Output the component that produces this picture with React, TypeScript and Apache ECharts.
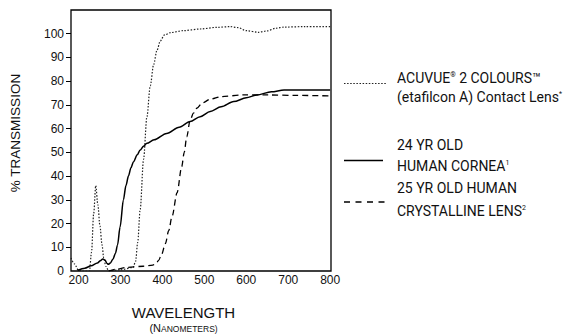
import React, { useEffect, useRef } from "react";
import * as echarts from "echarts";

// Wavelength (nm) vs % transmission
const contactLens: [number, number][] = [
  [182, 5.5], [190, 3], [200, 0.3], [210, 0], [226, 0], [231, 8], [236, 24], [241, 36],
  [246, 28], [251, 19], [256, 11], [260, 5.5], [265, 2], [272, 0], [300, 0.5], [330, 1.5],
  [336, 4], [341, 12], [347, 26], [355, 47], [363, 65], [371, 78], [379, 87], [387, 93],
  [395, 97], [405, 99.5], [420, 100.5], [450, 101.3], [490, 102], [530, 102.7], [562, 103],
  [580, 102.6], [600, 101.3], [629, 100.6], [650, 101.2], [670, 102.3], [690, 102.8],
  [740, 103], [800, 103],
];

const cornea: [number, number][] = [
  [198, 0.3], [215, 1.2], [230, 2.2], [245, 3.4], [252, 4.3], [258, 5.1], [263, 4.6],
  [268, 3.2], [271, 2.8], [276, 3.4], [282, 5], [288, 7.5], [293, 11], [299, 18.5],
  [307, 30], [313, 36], [319, 40], [325, 43.5], [331, 46], [340, 49], [347, 51],
  [355, 52.6], [363, 53.8], [380, 55.3], [410, 58], [440, 60.6], [466, 63], [490, 65],
  [514, 67.2], [540, 69.2], [570, 71.4], [600, 73], [625, 74.2], [660, 75.5], [690, 76.3],
  [800, 76.3],
];

const crystallineLens: [number, number][] = [
  [272, 0], [290, 0.8], [314, 1.5], [354, 2], [377, 2.5], [385, 3.2], [391, 4.5], [398, 7],
  [407, 11.5], [415, 17], [423, 23], [435, 33], [446, 44], [452, 50], [458, 56.5],
  [466, 63.5], [474, 66.5], [482, 68.6], [495, 70.8], [514, 72.4], [540, 73.5],
  [593, 74.2], [650, 74.2], [720, 74], [800, 73.8],
];

const xTickLabels = [200, 300, 400, 500, 600, 700, 800];
const yTickLabels = [0, 10, 20, 30, 40, 50, 60, 70, 80, 90, 100];
const yTickMarks = [10, 20, 30, 40, 50, 60, 70, 80, 90, 100];

const FONT = "'Liberation Sans', Arial, sans-serif";
const LEG_FONT = "Roboto, 'Liberation Sans', sans-serif";
const INK = "#111";

export default function App() {
  const ref = useRef<HTMLDivElement>(null);
  useEffect(() => {
    if (!ref.current) return;
    const chart = echarts.init(ref.current, undefined, { renderer: "svg" });
    const legText = (x: number, y: number, text: string) => ({
      type: "text",
      x,
      y,
      style: {
        text,
        fill: INK,
        fontFamily: LEG_FONT,
        fontSize: 14,
        verticalAlign: "middle",
        align: "left",
        rich: {
          a: { fontFamily: LEG_FONT, fontSize: 14, fill: INK },
          s: { fontFamily: LEG_FONT, fontSize: 7, fill: INK, verticalAlign: "top", padding: [0, 0, 6, 0] },
        },
      },
    });
    chart.setOption({
      animation: false,
      grid: {
        left: 71,
        right: 232,
        top: 10,
        bottom: 63,
        show: true,
        borderColor: "#000",
        borderWidth: 1.3,
        backgroundColor: "transparent",
      },
      xAxis: {
        type: "value",
        min: 182,
        max: 802,
        axisLine: { show: false },
        axisTick: { show: false },
        splitLine: { show: false },
        axisLabel: {
          customValues: xTickLabels,
          color: INK,
          fontFamily: FONT,
          fontSize: 12,
          margin: 3,
        },
      },
      yAxis: {
        type: "value",
        min: 0,
        max: 110,
        interval: 10,
        axisLine: { show: false },
        splitLine: { show: false },
        axisTick: {
          show: true,
          customValues: yTickMarks,
          length: 5,
          inside: false,
          lineStyle: { color: "#000", width: 1 },
        },
        axisLabel: {
          customValues: yTickLabels,
          color: INK,
          fontFamily: FONT,
          fontSize: 12,
          margin: 7,
        },
      },
      series: [
        {
          type: "line",
          name: "ACUVUE 2 COLOURS",
          data: contactLens,
          showSymbol: false,
          smooth: 0.3,
          smoothMonotone: "x",
          lineStyle: { color: "#222", width: 1.2, type: [1.5, 1.6] },
        },
        {
          type: "line",
          name: "24 YR OLD HUMAN CORNEA",
          data: cornea,
          showSymbol: false,
          smooth: 0.3,
          smoothMonotone: "x",
          lineStyle: { color: "#000", width: 1.5, type: "solid" },
        },
        {
          type: "line",
          name: "25 YR OLD HUMAN CRYSTALLINE LENS",
          data: crystallineLens,
          showSymbol: false,
          smooth: 0.3,
          smoothMonotone: "x",
          lineStyle: { color: "#000", width: 1.3, type: [6, 4] },
        },
      ],
      graphic: [
        {
          type: "text",
          x: 15,
          y: 133,
          rotation: Math.PI / 2,
          style: {
            text: "% TRANSMISSION",
            fill: INK,
            fontFamily: FONT,
            fontSize: 13.5,
            align: "center",
            verticalAlign: "middle",
          },
        },
        {
          type: "text",
          x: 183.5,
          y: 312,
          style: {
            text: "WAVELENGTH",
            fill: INK,
            fontFamily: FONT,
            fontSize: 15,
            align: "center",
            verticalAlign: "middle",
          },
        },
        {
          type: "text",
          x: 183.5,
          y: 328,
          style: {
            text: "{b|(N}{c|ANOMETERS)}",
            fill: INK,
            align: "center",
            verticalAlign: "middle",
            rich: {
              b: { fontFamily: FONT, fontSize: 11, fill: INK, verticalAlign: "bottom" },
              c: { fontFamily: FONT, fontSize: 8.5, fill: INK, verticalAlign: "bottom" },
            },
          },
        },
        // legend marks
        {
          type: "line",
          shape: { x1: 344, y1: 83.5, x2: 387, y2: 83.5 },
          style: { stroke: "#222", lineWidth: 1.2, lineDash: [1.5, 1.6] },
        },
        {
          type: "line",
          shape: { x1: 344, y1: 160.5, x2: 383, y2: 160.5 },
          style: { stroke: "#000", lineWidth: 1.3 },
        },
        {
          type: "line",
          shape: { x1: 344, y1: 202, x2: 387, y2: 202 },
          style: { stroke: "#000", lineWidth: 1.3, lineDash: [6, 5.5] },
        },
        legText(397, 78, "{a|ACUVUE}{s|®}{a| 2 COLOURS™}"),
        legText(397, 97, "{a|(etafilcon A) Contact Lens}{s|*}"),
        legText(397, 145, "{a|24 YR OLD}"),
        legText(397, 166, "{a|HUMAN CORNEA}{s|1}"),
        legText(397, 188, "{a|25 YR OLD HUMAN}"),
        legText(397, 211, "{a|CRYSTALLINE LENS}{s|2}"),
      ],
    });
    return () => chart.dispose();
  }, []);
  return <div ref={ref} style={{ width: 563, height: 334, position: "absolute", left: 0, top: 0 }} />;
}
